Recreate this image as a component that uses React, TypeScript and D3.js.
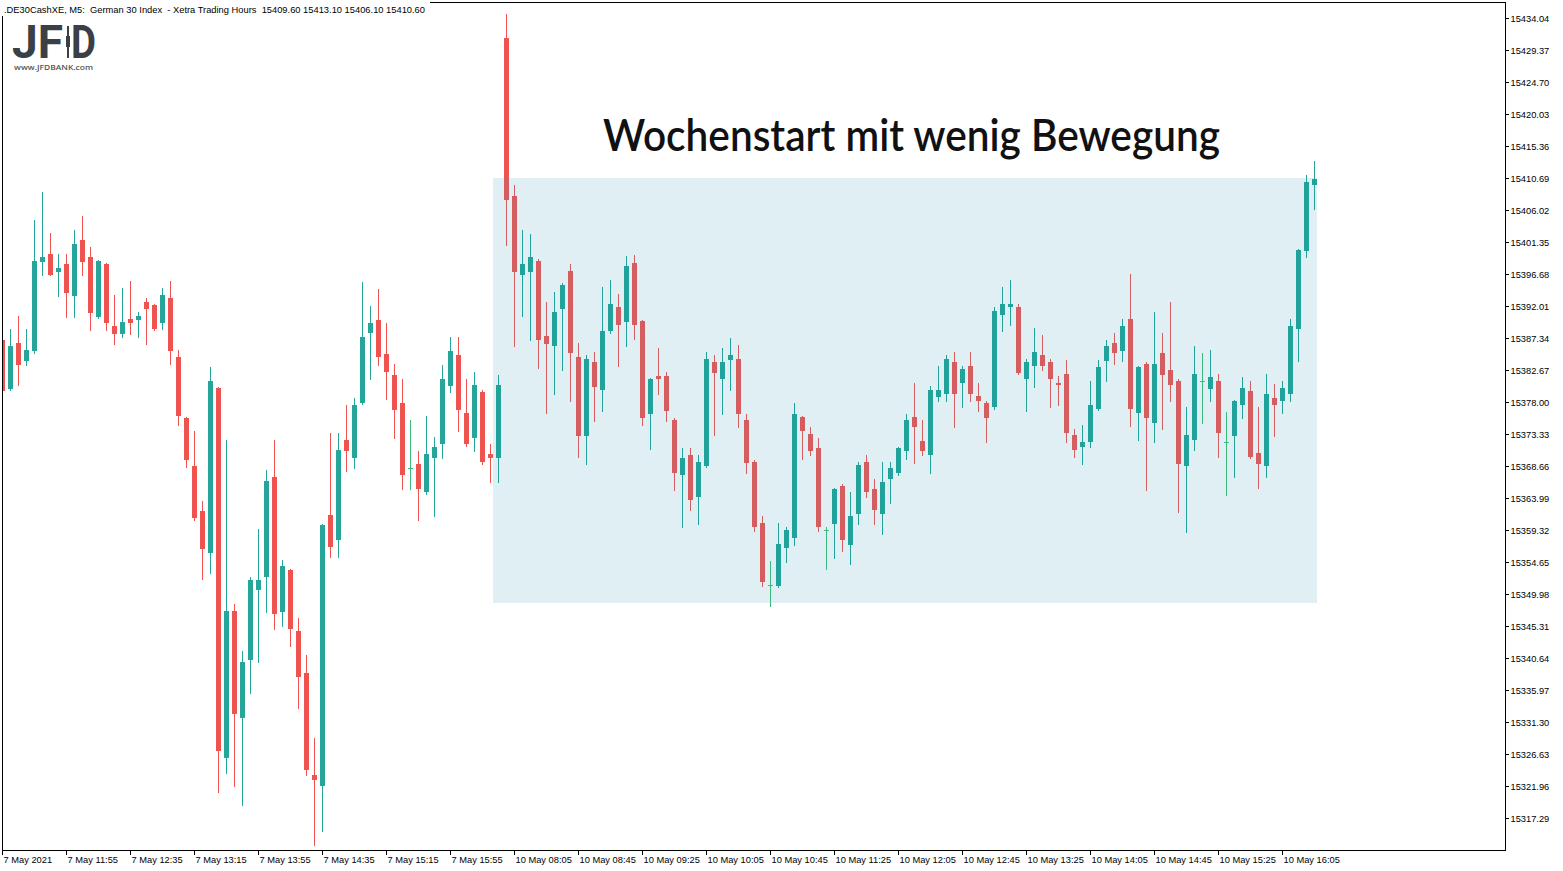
import React from "react";
import * as d3 from "d3";

const opens = [15387.0,15379.9,15386.6,15384.0,15385.4,15398.4,15399.6,15397.0,15398.1,15393.5,15401.6,15399.2,15390.4,15398.1,15389.1,15387.9,15390.1,15390.0,15392.6,15392.1,15389.6,15393.2,15384.6,15375.7,15368.7,15362.1,15356.0,15380.0,15326.0,15347.5,15331.9,15340.4,15350.5,15352.4,15367.1,15347.4,15353.5,15344.6,15338.5,15323.6,15321.9,15361.5,15357.9,15372.5,15369.9,15377.9,15388.0,15390.0,15385.0,15381.9,15377.9,15368.3,15369.0,15364.8,15369.9,15371.8,15380.4,15384.9,15376.4,15372.8,15379.5,15370.4,15369.9,15431.1,15408.1,15396.6,15397.0,15398.6,15387.6,15386.1,15391.5,15397.1,15384.6,15373.1,15383.8,15379.7,15388.3,15391.9,15389.7,15398.3,15389.8,15376.2,15381.8,15381.8,15375.4,15367.3,15370.3,15364.2,15368.7,15383.8,15381.3,15384.2,15384.3,15375.4,15369.3,15360.3,15351.3,15351.2,15356.7,15358.2,15375.8,15373.3,15371.3,15359.3,15360.2,15365.7,15357.2,15361.7,15369.3,15365.3,15361.7,15366.7,15367.7,15370.8,15375.8,15372.3,15370.2,15378.8,15379.2,15383.8,15380.7,15383.3,15378.9,15377.9,15377.2,15390.7,15391.8,15391.9,15381.3,15383.2,15384.9,15383.8,15380.8,15382.1,15373.2,15371.5,15372.1,15377.0,15384.0,15386.6,15385.5,15390.1,15376.4,15383.6,15375.0,15385.2,15382.7,15381.1,15368.6,15372.5,15381.1,15379.9,15381.1,15372.1,15373.1,15377.5,15379.6,15370.6,15368.6,15378.6,15378.1,15379.1,15388.6,15400.1,15409.6];
const highs = [15387.3,15388.7,15390.6,15388.7,15404.6,15408.7,15402.7,15399.6,15399.6,15403.1,15405.2,15400.6,15398.7,15398.3,15393.6,15394.6,15395.7,15391.1,15393.2,15392.3,15394.7,15395.7,15385.6,15375.8,15373.7,15363.6,15383.1,15380.2,15372.4,15348.5,15341.6,15352.5,15359.5,15368.1,15372.5,15355.0,15353.7,15346.5,15341.1,15329.0,15360.2,15373.5,15373.5,15377.6,15378.6,15395.5,15392.0,15394.5,15389.6,15383.6,15381.4,15375.4,15370.9,15376.0,15372.9,15383.4,15387.5,15387.5,15381.4,15382.4,15379.7,15371.9,15381.9,15434.6,15409.7,15403.1,15402.5,15398.8,15392.6,15394.1,15395.3,15398.1,15386.6,15384.9,15385.3,15394.8,15395.8,15393.8,15399.3,15399.4,15390.0,15381.5,15385.9,15382.4,15375.6,15371.3,15371.3,15370.3,15385.3,15384.9,15385.9,15387.3,15386.3,15376.3,15369.5,15361.4,15354.8,15360.3,15359.8,15377.9,15376.0,15374.4,15372.8,15359.8,15365.5,15366.0,15364.9,15369.3,15370.3,15366.8,15369.3,15369.3,15371.5,15376.3,15380.8,15375.4,15380.3,15383.3,15384.9,15385.3,15383.3,15385.3,15380.8,15378.1,15391.9,15394.8,15395.8,15392.3,15384.3,15388.8,15387.8,15384.3,15381.8,15384.1,15374.1,15374.7,15381.1,15384.1,15387.1,15388.1,15390.1,15396.7,15383.3,15383.8,15391.1,15388.1,15392.6,15381.3,15377.2,15386.2,15385.2,15385.6,15382.1,15376.5,15378.3,15381.7,15381.1,15377.2,15382.1,15380.6,15381.1,15390.1,15400.4,15411.1,15413.1];
const lows = [15379.5,15379.7,15380.5,15383.4,15385.2,15396.5,15396.5,15393.5,15390.4,15390.4,15396.5,15388.5,15390.2,15388.5,15386.5,15387.5,15387.9,15387.5,15386.5,15388.5,15388.6,15383.5,15374.6,15368.5,15360.8,15352.1,15353.0,15321.1,15323.9,15321.9,15319.2,15335.5,15340.0,15347.4,15344.9,15345.3,15342.4,15333.4,15323.5,15313.4,15315.4,15355.4,15355.4,15368.0,15368.4,15377.7,15381.4,15383.4,15378.5,15372.8,15365.3,15365.3,15360.8,15364.6,15361.3,15369.9,15379.4,15373.8,15371.6,15370.8,15368.9,15366.3,15366.3,15400.9,15386.1,15390.5,15387.0,15383.0,15376.4,15379.1,15382.6,15378.1,15370.0,15369.0,15375.3,15376.7,15388.1,15383.2,15386.2,15387.2,15374.7,15371.2,15379.2,15375.3,15365.2,15359.7,15362.3,15360.2,15368.5,15373.2,15376.2,15379.7,15374.3,15367.7,15359.2,15351.2,15348.3,15351.0,15354.7,15357.2,15369.7,15370.2,15359.2,15353.7,15355.3,15356.2,15354.3,15360.2,15364.2,15360.2,15358.8,15363.2,15367.3,15369.7,15369.1,15370.2,15367.7,15378.2,15378.2,15374.3,15377.2,15378.2,15376.7,15372.2,15377.0,15388.3,15389.3,15382.1,15376.7,15380.2,15382.7,15377.2,15377.5,15372.1,15370.0,15369.0,15371.5,15376.8,15381.0,15383.5,15384.0,15374.5,15372.5,15365.1,15372.1,15374.0,15378.1,15362.0,15359.1,15371.0,15375.0,15378.1,15370.0,15364.5,15367.0,15375.6,15369.8,15365.5,15367.0,15373.1,15376.4,15378.1,15384.0,15399.1,15406.1];
const closes = [15379.6,15386.2,15383.4,15385.6,15398.6,15399.2,15396.5,15397.6,15393.9,15401.1,15398.4,15391.0,15398.6,15389.5,15387.9,15389.7,15389.5,15390.5,15391.5,15388.6,15393.6,15385.5,15376.0,15369.6,15361.0,15356.5,15381.1,15327.0,15347.5,15332.4,15340.1,15352.0,15352.0,15366.5,15347.0,15354.1,15344.9,15337.9,15324.3,15322.9,15360.0,15356.9,15371.0,15370.9,15377.6,15387.5,15389.6,15384.5,15382.4,15376.9,15367.3,15368.3,15365.3,15370.4,15371.4,15381.4,15385.5,15376.9,15371.8,15380.5,15369.3,15369.9,15380.5,15407.5,15397.0,15398.1,15399.2,15387.0,15386.5,15391.1,15395.1,15385.1,15373.1,15384.3,15380.2,15388.4,15392.3,15389.3,15397.9,15389.3,15375.7,15381.4,15381.3,15376.7,15367.7,15369.8,15363.7,15369.3,15384.3,15382.3,15383.8,15384.9,15376.2,15369.1,15359.7,15351.8,15351.3,15357.3,15359.3,15376.3,15373.7,15370.8,15359.7,15359.3,15365.3,15357.8,15361.4,15368.8,15364.8,15362.3,15366.3,15368.4,15371.3,15375.4,15374.3,15370.8,15379.8,15379.8,15384.3,15379.2,15382.8,15379.2,15378.2,15375.7,15391.3,15392.3,15392.3,15382.3,15383.8,15385.3,15383.2,15381.3,15380.5,15373.5,15371.0,15372.2,15377.6,15383.1,15386.2,15385.1,15389.1,15377.0,15383.1,15375.6,15383.6,15382.0,15380.5,15369.0,15373.2,15382.1,15381.1,15381.7,15373.5,15372.1,15378.2,15380.1,15370.0,15369.0,15379.2,15377.5,15380.1,15389.1,15400.2,15410.1,15410.6];

const priceTicks = [15434.04,15429.37,15424.70,15420.03,15415.36,15410.69,15406.02,15401.35,15396.68,15392.01,15387.34,15382.67,15378.00,15373.33,15368.66,15363.99,15359.32,15354.65,15349.98,15345.31,15340.64,15335.97,15331.30,15326.63,15321.96,15317.29];
const timeTickIndex = [0,8,16,24,32,40,48,56,64,72,80,88,96,104,112,120,128,136,144,152,160];
const timeTickLabels = ["7 May 2021","7 May 11:55","7 May 12:35","7 May 13:15","7 May 13:55","7 May 14:35","7 May 15:15","7 May 15:55","10 May 08:05","10 May 08:45","10 May 09:25","10 May 10:05","10 May 10:45","10 May 11:25","10 May 12:05","10 May 12:45","10 May 13:25","10 May 14:05","10 May 14:45","10 May 15:25","10 May 16:05"];

const zoneStartIndex = 62;
const zoneEndIndex = 164;
const zoneTop = 15410.69;
const zoneBottom = 15348.67;

const headerText = ".DE30CashXE, M5:  German 30 Index  - Xetra Trading Hours  15409.60 15413.10 15406.10 15410.60";
const titleText = "Wochenstart mit wenig Bewegung";
const logoUrl = "www.JFDBANK.com";

const UP = "#26a69a";
const DOWN = "#ef5350";
const DOJI = "#3dba80";
const UP_IN = "#21a39b";
const DOWN_IN = "#d55d60";
const ZONE = "#dfeff4";
const AXIS_FONT = "'Liberation Sans', Arial, sans-serif";

export default function App() {
  const n = opens.length;
  const x = d3.scaleLinear().domain([0, n - 1]).range([2, 2 + 8 * (n - 1)]);
  const y = d3.scaleLinear().domain([15317.29, 15434.04]).range([818, 18]);

  const zx0 = x(zoneStartIndex) - 5;
  const zx1 = x(zoneEndIndex) + 3;
  const zy0 = Math.round(y(zoneTop));
  const zy1 = Math.round(y(zoneBottom));

  const candles = (inside: boolean) =>
    d3.range(n).map((i) => {
      const o = opens[i], h = highs[i], l = lows[i], c = closes[i];
      const cx = Math.round(x(i));
      const yh = Math.round(y(h));
      const yl = Math.round(y(l));
      const yo = Math.round(y(o));
      const yc = Math.round(y(c));
      const doji = o === c;
      const col = doji ? DOJI : c > o ? (inside ? UP_IN : UP) : (inside ? DOWN_IN : DOWN);
      const top = Math.min(yo, yc);
      const bot = Math.max(yo, yc);
      return (
        <g key={i} fill={col}>
          <rect x={cx} y={yh} width={1} height={Math.max(1, yl - yh + 1)} />
          <rect x={cx - 2} y={top} width={5} height={Math.max(1, bot - top)} />
        </g>
      );
    });

  return (
    <svg
      width={1563}
      height={871}
      style={{ position: "absolute", left: 0, top: 0, display: "block", background: "#fff" }}
      shapeRendering="crispEdges"
    >
      <defs>
        <clipPath id="plotClip">
          <rect x={3} y={3} width={1502} height={847} />
        </clipPath>
        <clipPath id="zoneClip">
          <rect x={zx0} y={zy0} width={zx1 - zx0} height={zy1 - zy0} />
        </clipPath>
      </defs>
      <rect x={0} y={0} width={1563} height={871} fill="#fff" />
      <rect x={zx0} y={zy0} width={zx1 - zx0} height={zy1 - zy0} fill={ZONE} />
      <g clipPath="url(#plotClip)">{candles(false)}</g>
      <g clipPath="url(#zoneClip)">{candles(true)}</g>

      {/* frame */}
      <rect x={2.5} y={2.5} width={1503} height={848} fill="none" stroke="#000" strokeWidth={1} />

      {/* price axis */}
      {priceTicks.map((v, i) => {
        const yy = Math.round(y(v)) + 0.5;
        return (
          <g key={i}>
            <line x1={1506} x2={1509} y1={yy} y2={yy} stroke="#000" />
            <text x={1510.5} y={yy + 3.2} fontFamily={AXIS_FONT} fontSize={9.3} fill="#000">
              {v.toFixed(2)}
            </text>
          </g>
        );
      })}

      {/* time axis */}
      {timeTickIndex.map((ti, k) => {
        const xx = Math.round(x(ti)) + 0.5;
        return (
          <g key={k}>
            <line x1={xx} x2={xx} y1={851} y2={855} stroke="#000" />
            <text x={xx + 1} y={862.5} fontFamily={AXIS_FONT} fontSize={9.3} fill="#000">
              {timeTickLabels[k]}
            </text>
          </g>
        );
      })}

      {/* header */}
      <rect x={0} y={0} width={430} height={16} fill="#fff" />
      <text
        x={4}
        y={12.5}
        fontFamily={AXIS_FONT}
        fontSize={9.3}
        fill="#000"
        style={{ whiteSpace: "pre" }}
        textLength={421}
        lengthAdjust="spacingAndGlyphs"
      >
        {headerText}
      </text>

      {/* logo */}
      <g fill="#3b4046">
        <text x={12} y={58} fontFamily="Roboto, 'DejaVu Sans', sans-serif" fontWeight={700} fontSize={46} textLength={51} lengthAdjust="spacingAndGlyphs">JF</text>
        <text x={71} y={58} fontFamily="Roboto, 'DejaVu Sans', sans-serif" fontWeight={700} fontSize={46} textLength={25} lengthAdjust="spacingAndGlyphs">D</text>
        <rect x={67} y={26} width={1.5} height={32} />
        <rect x={65.5} y={36} width={4.5} height={11} />
      </g>
      <text x={14} y={70} fontFamily="'Open Sans', Arial, sans-serif" fontSize={7.6} fontWeight={600} fill="#555" textLength={79} lengthAdjust="spacingAndGlyphs">
        {logoUrl}
      </text>

      {/* title */}
      <text
        x={603}
        y={151}
        fontFamily="Lato, 'Open Sans', sans-serif"
        fontWeight={600}
        fontSize={45}
        fill="#111"
        textLength={617}
        lengthAdjust="spacingAndGlyphs"
      >
        {titleText}
      </text>
    </svg>
  );
}
